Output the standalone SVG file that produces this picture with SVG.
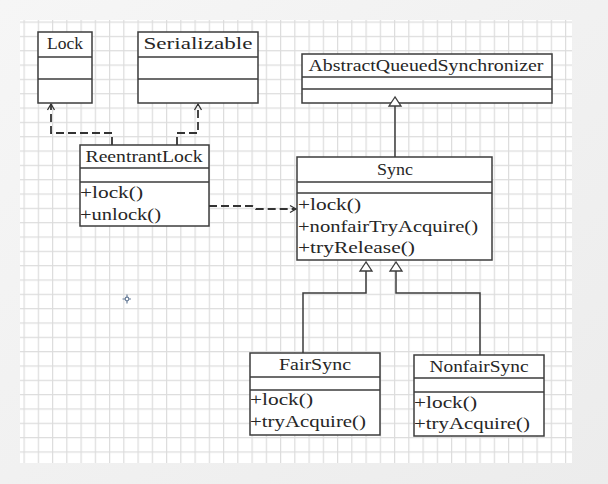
<svg xmlns="http://www.w3.org/2000/svg" width="608" height="484" viewBox="0 0 608 484">
<style>
.box{fill:#fff;stroke:#3c3c3c;stroke-width:1.5}
.div{stroke:#3c3c3c;stroke-width:1.5}
.t{font-family:"Liberation Serif","DejaVu Serif",serif;font-size:17px;fill:#262626}
.c{text-anchor:middle}
.dash{fill:none;stroke:#333;stroke-width:1.8;stroke-dasharray:8 4}
.solid{fill:none;stroke:#3c3c3c;stroke-width:1.5}
.tri{fill:#fff;stroke:#3c3c3c;stroke-width:1.3}
</style>
<defs>
<linearGradient id="bg" x1="0" y1="0" x2="1" y2="1">
<stop offset="0" stop-color="#f6f6f6"/>
<stop offset="1" stop-color="#ececec"/>
</linearGradient>
<pattern id="grid" patternUnits="userSpaceOnUse" x="23.5" y="21.5" width="14.25" height="14.33">
<path d="M0.6,0 V14.33 M0,0.6 H14.25" fill="none" stroke="#dcdcdc" stroke-width="1.2"/>
</pattern>
<marker id="open" markerUnits="userSpaceOnUse" viewBox="-8 -5 10 10" refX="0" refY="0" markerWidth="10" markerHeight="10" orient="auto">
<path d="M-6,-3.5 L0,0 L-6,3.5" fill="none" stroke="#333" stroke-width="1.3"/>
</marker>
</defs>
<rect width="608" height="484" fill="url(#bg)"/>
<rect x="20" y="20" width="552" height="443" fill="#fff"/>
<rect x="20" y="20" width="552" height="443" fill="url(#grid)"/>
<g id="cursor" stroke="#6a7f9a" stroke-width="1.2" fill="none">
<path d="M122.5,299 H131 M127,294.5 V303.5"/>
<circle cx="127" cy="299" r="1.8" fill="#fff"/>
</g>
<g id="connectors">
<path class="dash" d="M112,145 V133 H51 V104" marker-end="url(#open)"/>
<path class="dash" d="M177,145 V133 H198 V104" marker-end="url(#open)"/>
<path class="dash" d="M209,206 H252 Q255,206 256,209 H296" marker-end="url(#open)"/>
<path class="solid" d="M395,157 V106"/>
<path class="solid" d="M303,353 V293 H366 V271"/>
<path class="solid" d="M480,355 V293 H396 V271"/>
</g>
<g id="Lock">
<rect class="box" x="38" y="32" width="54" height="71"/>
<path class="div" d="M38,57 H92 M38,79 H92"/>
<text class="t c" x="65" y="49" textLength="36" lengthAdjust="spacingAndGlyphs">Lock</text>
</g>
<g id="Serializable">
<rect class="box" x="138" y="32" width="120" height="71"/>
<path class="div" d="M138,57 H258 M138,79 H258"/>
<text class="t c" x="198" y="49" textLength="109" lengthAdjust="spacingAndGlyphs">Serializable</text>
</g>
<g id="AbstractQueuedSynchronizer">
<rect class="box" x="302" y="54" width="250" height="49"/>
<path class="div" d="M302,77 H552 M302,89 H552"/>
<text class="t c" x="426" y="71" textLength="235" lengthAdjust="spacingAndGlyphs">AbstractQueuedSynchronizer</text>
</g>
<g id="ReentrantLock">
<rect class="box" x="80" y="145" width="129" height="81"/>
<path class="div" d="M80,168 H209 M80,182 H209"/>
<text class="t c" x="144" y="162" textLength="117" lengthAdjust="spacingAndGlyphs">ReentrantLock</text>
<text class="t" x="80" y="198" textLength="63" lengthAdjust="spacingAndGlyphs">+lock()</text>
<text class="t" x="80" y="220" textLength="81" lengthAdjust="spacingAndGlyphs">+unlock()</text>
</g>
<g id="Sync">
<rect class="box" x="297" y="157" width="195" height="103"/>
<path class="div" d="M297,182 H492 M297,193 H492"/>
<text class="t c" x="395" y="175" textLength="36" lengthAdjust="spacingAndGlyphs">Sync</text>
<text class="t" x="298" y="210" textLength="63" lengthAdjust="spacingAndGlyphs">+lock()</text>
<text class="t" x="298" y="232" textLength="180" lengthAdjust="spacingAndGlyphs">+nonfairTryAcquire()</text>
<text class="t" x="298" y="253" textLength="117" lengthAdjust="spacingAndGlyphs">+tryRelease()</text>
</g>
<g id="FairSync">
<rect class="box" x="250" y="353" width="130" height="82"/>
<path class="div" d="M250,377 H380 M250,390 H380"/>
<text class="t c" x="315" y="370" textLength="72" lengthAdjust="spacingAndGlyphs">FairSync</text>
<text class="t" x="250" y="405" textLength="63" lengthAdjust="spacingAndGlyphs">+lock()</text>
<text class="t" x="250" y="427" textLength="116" lengthAdjust="spacingAndGlyphs">+tryAcquire()</text>
</g>
<g id="NonfairSync">
<rect class="box" x="414" y="355" width="130" height="81"/>
<path class="div" d="M414,378 H544 M414,392 H544"/>
<text class="t c" x="479" y="372" textLength="99" lengthAdjust="spacingAndGlyphs">NonfairSync</text>
<text class="t" x="414" y="408" textLength="63" lengthAdjust="spacingAndGlyphs">+lock()</text>
<text class="t" x="414" y="429" textLength="116" lengthAdjust="spacingAndGlyphs">+tryAcquire()</text>
</g>
<g id="heads">
<polygon class="tri" points="395,97 389,106 401,106"/>
<polygon class="tri" points="366,262 360,271 372,271"/>
<polygon class="tri" points="396,262 390,271 402,271"/>
</g>
</svg>
